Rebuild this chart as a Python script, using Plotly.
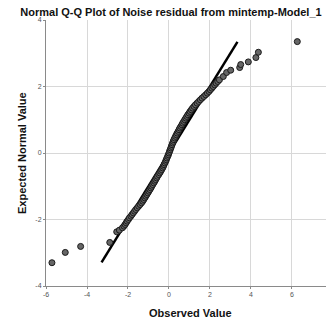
import plotly.graph_objects as go

# Q-Q points: expected normal value (y) vs observed residual (x)
expected = [-3.30, -2.99, -2.81, -2.69, -2.37, -2.32,
            -2.25, -2.20, -2.15, -2.10, -2.05, -2.00, -1.95, -1.90, -1.85, -1.80,
            -1.75, -1.70, -1.65, -1.60, -1.55, -1.50, -1.45, -1.40, -1.35, -1.30,
            -1.25, -1.20, -1.15, -1.10, -1.05, -1.00, -0.95, -0.90, -0.85, -0.80,
            -0.75, -0.70, -0.65, -0.60, -0.55, -0.50, -0.45, -0.40, -0.35, -0.30,
            -0.25, -0.20, -0.15, -0.10, -0.05, 0.00, 0.05, 0.10, 0.15, 0.20,
            0.25, 0.30, 0.35, 0.40, 0.45, 0.50, 0.55, 0.60, 0.65, 0.70,
            0.75, 0.80, 0.85, 0.90, 0.95, 1.00, 1.05, 1.10, 1.15, 1.20,
            1.25, 1.30, 1.35, 1.40, 1.45, 1.50, 1.55, 1.60, 1.65, 1.70,
            1.75, 1.80, 1.85, 1.90, 1.95, 2.00, 2.05, 2.10, 2.15, 2.20,
            2.30, 2.42, 2.49, 2.57, 2.66, 2.74, 2.87, 3.03, 3.35]
observed = [-5.71, -5.06, -4.31, -2.89, -2.55, -2.42,
            -2.27, -2.20, -2.14, -2.09, -2.04, -1.98, -1.93, -1.86, -1.80, -1.74,
            -1.68, -1.62, -1.55, -1.48, -1.41, -1.34, -1.28, -1.23, -1.18, -1.13,
            -1.08, -1.03, -0.98, -0.93, -0.88, -0.84, -0.79, -0.74, -0.69, -0.65,
            -0.60, -0.56, -0.50, -0.45, -0.40, -0.36, -0.31, -0.27, -0.24, -0.20,
            -0.16, -0.13, -0.10, -0.06, -0.03, 0.00, 0.03, 0.06, 0.09, 0.12,
            0.15, 0.18, 0.21, 0.24, 0.28, 0.32, 0.36, 0.40, 0.45, 0.49,
            0.53, 0.58, 0.63, 0.67, 0.72, 0.77, 0.82, 0.87, 0.92, 0.98,
            1.03, 1.09, 1.15, 1.22, 1.29, 1.37, 1.45, 1.53, 1.61, 1.70,
            1.79, 1.87, 1.95, 2.02, 2.09, 2.16, 2.23, 2.30, 2.38, 2.46,
            2.65, 2.81, 3.01, 3.45, 3.50, 3.87, 4.24, 4.36, 6.26]

# reference line y = x spanning the expected values
ref_line = [-3.29, 3.34]

x_ticks = [-6, -4, -2, 0, 2, 4, 6]
y_ticks = [-4, -2, 0, 2, 4]

fig = go.Figure()
fig.add_trace(go.Scatter(
    x=ref_line, y=ref_line, mode="lines",
    line=dict(color="#000000", width=2.5), hoverinfo="skip"))
fig.add_trace(go.Scatter(
    x=observed, y=expected, mode="markers",
    marker=dict(size=6, color="#666666", line=dict(color="#1a1a1a", width=1))))

font_fam = "Liberation Sans, Arial, sans-serif"
fig.update_layout(
    width=326, height=325,
    margin=dict(l=46, r=0, t=20, b=39),
    paper_bgcolor="white", plot_bgcolor="white",
    showlegend=False,
    font=dict(family=font_fam),
    title=dict(text="<b>Normal Q-Q Plot of Noise residual from mintemp-Model_1</b>",
               x=171/326, xref="container", xanchor="center",
               y=1-12/325, yref="container", yanchor="middle",
               font=dict(size=11, color="#111111", family=font_fam)),
    xaxis=dict(range=[-6, 7.66], tickvals=x_ticks, ticktext=[str(v) for v in x_ticks],
               showgrid=True, gridcolor="#d8d8d8", gridwidth=1, zeroline=False,
               showline=True, linecolor="#8a8a8a", linewidth=1,
               ticks="outside", ticklen=2, tickcolor="#8a8a8a",
               tickfont=dict(size=7, color="#555555")),
    yaxis=dict(range=[-4, 4], tickvals=y_ticks, ticktext=[str(v) for v in y_ticks],
               showgrid=True, gridcolor="#d8d8d8", gridwidth=1, zeroline=False,
               showline=True, linecolor="#8a8a8a", linewidth=1,
               ticks="outside", ticklen=2, tickcolor="#8a8a8a",
               tickfont=dict(size=7, color="#555555")),
)
# axis titles placed at measured pixel positions (converted to paper coords)
pw, ph = 326 - 46, 325 - 20 - 39
fig.add_annotation(text="<b>Observed Value</b>", x=(190 - 46) / pw, y=(325 - 39 - 313) / ph,
                   xref="paper", yref="paper", showarrow=False,
                   xanchor="center", yanchor="middle",
                   font=dict(size=11, color="#111111", family=font_fam))
fig.add_annotation(text="<b>Expected Normal Value</b>", x=(22 - 46) / pw, y=(325 - 39 - 153) / ph,
                   xref="paper", yref="paper", showarrow=False, textangle=-90,
                   xanchor="center", yanchor="middle",
                   font=dict(size=11, color="#111111", family=font_fam))

fig.write_html("out.html")
